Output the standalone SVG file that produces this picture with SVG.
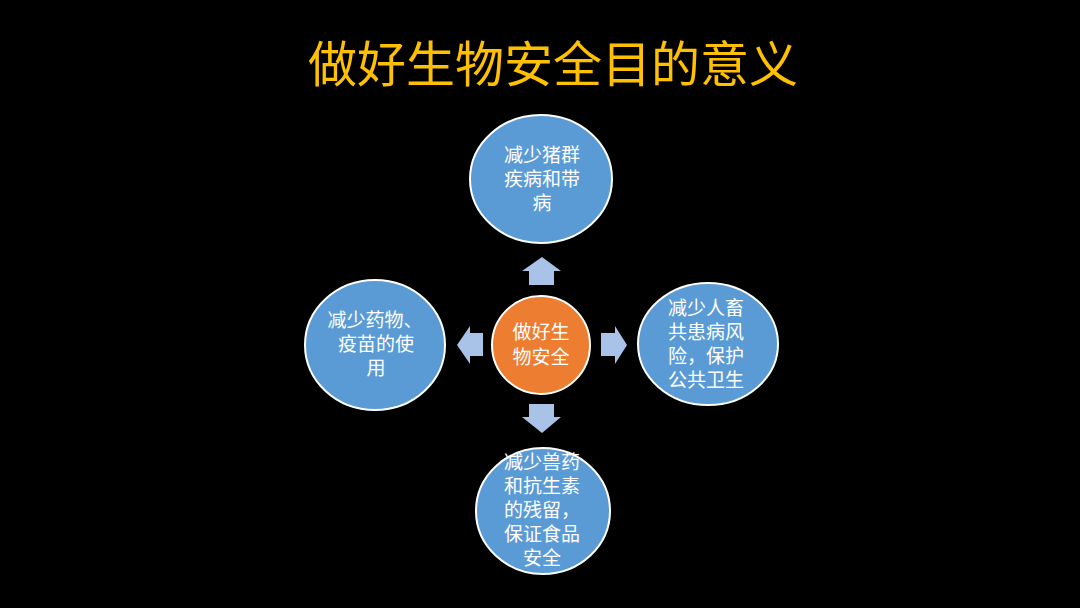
<svg xmlns="http://www.w3.org/2000/svg" width="1080" height="608" viewBox="0 0 1080 608">
<style>
.t{font-family:"Noto Sans CJK SC","Noto Sans",sans-serif;fill:#fff;font-size:19px;text-anchor:middle}
.b{fill:#5B9BD5;stroke:#fff;stroke-width:2}
.o{fill:#ED7D31;stroke:#fff;stroke-width:2}
.a{fill:#A9C2E8}
.title{font-family:"Noto Sans CJK SC","Noto Sans",sans-serif;fill:#FFC000;font-size:49px;text-anchor:middle}
</style>
<rect width="1080" height="608" fill="#000"/>
<text class="title" x="553" y="82">做好生物安全目的意义</text>
<g id="connectors">
<polygon class="a" points="542,257 561,271 554,271 554,285 529,285 529,271 522,271"/>
<polygon class="a" points="542,433 561,417 554,417 554,404 529,404 529,417 522,417"/>
<polygon class="a" points="457,345 470,326 470,333 483,333 483,356 470,356 470,364"/>
<polygon class="a" points="627,345 615,326 615,333 601,333 601,356 615,356 615,364"/>
</g>
<g id="center">
<circle class="o" cx="541" cy="345" r="49"/>
<text class="t" x="541" y="339">做好生<tspan x="541" dy="25">物安全</tspan></text>
</g>
<g id="top">
<ellipse class="b" cx="541" cy="179" rx="71" ry="64"/>
<text class="t" x="542" y="162">减少猪群<tspan x="542" dy="24">疾病和带</tspan><tspan x="542" dy="24">病</tspan></text>
</g>
<g id="left">
<ellipse class="b" cx="375" cy="345" rx="70" ry="65"/>
<text class="t" x="375" y="327">减少药物、<tspan x="376" dy="24">疫苗的使</tspan><tspan x="376" dy="24">用</tspan></text>
</g>
<g id="right">
<ellipse class="b" cx="708" cy="344" rx="70" ry="61"/>
<text class="t" x="706" y="315">减少人畜<tspan x="706" dy="24">共患病风</tspan><tspan x="706" dy="24">险，保护</tspan><tspan x="706" dy="24">公共卫生</tspan></text>
</g>
<g id="bottom">
<ellipse class="b" cx="543" cy="511" rx="67" ry="63"/>
<text class="t" x="542" y="469">减少兽药<tspan x="542" dy="24">和抗生素</tspan><tspan x="542" dy="24">的残留，</tspan><tspan x="542" dy="24">保证食品</tspan><tspan x="542" dy="24">安全</tspan></text>
</g>
</svg>
